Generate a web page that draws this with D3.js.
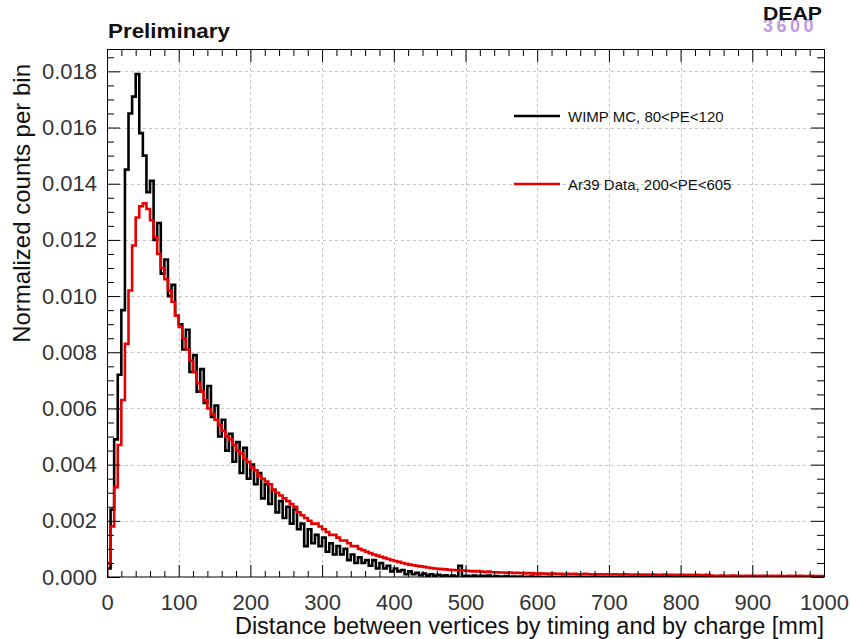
<!DOCTYPE html>
<html>
<head>
<meta charset="utf-8">
<script src="https://cdn.jsdelivr.net/npm/d3@7"></script>
<style>
  body { margin: 0; background: #fff; }
  svg { display: block; font-family: "Liberation Sans", Arial, Helvetica, sans-serif; }
</style>
</head>
<body>
<div id="chart"></div>
<script>
// histogram bins: 5 mm wide, starting at 0 mm
const binStart = 0;
const binWidth = 5;

const seriesNames = ["WIMP MC, 80<PE<120", "Ar39 Data, 200<PE<605"];

const wimpMC = [
  0.0003, 0.0024, 0.0049, 0.0072, 0.0095, 0.0145, 0.0165, 0.0171, 0.0179, 0.0158,
  0.0150, 0.0137, 0.0141, 0.0120, 0.0126, 0.0108, 0.0113, 0.0100, 0.0104, 0.0093,
  0.0090, 0.0081, 0.0088, 0.0073, 0.0079, 0.0066, 0.0074, 0.0062, 0.0068, 0.0057,
  0.0061, 0.0050, 0.0056, 0.0045, 0.0051, 0.0041, 0.0048, 0.0037, 0.0046, 0.0035,
  0.0040, 0.0033, 0.0037, 0.0028, 0.0033, 0.0026, 0.0031, 0.0023, 0.0027, 0.0021,
  0.0025, 0.0019, 0.0024, 0.0017, 0.0019, 0.0011, 0.0017, 0.0012, 0.0015, 0.0011,
  0.0014, 0.0009, 0.0012, 0.0008, 0.0011, 0.0008, 0.0010, 0.0006, 0.0008, 0.0005,
  0.0007, 0.0005, 0.0006, 0.0004, 0.0006, 0.0003, 0.0005, 0.0003, 0.0004, 0.0002,
  0.0003, 0.0002, 0.00025, 0.0001, 0.0002, 0.0001, 0.00015, 0.00006, 0.00012, 0.00005,
  0.0001, 0.00004, 0.00008, 0.00003, 0.00006, 0.00002, 0.00005, 0.00002, 0.0004, 0.00003,
  0.00004, 0.00002, 0.00005, 0.00002, 0.00004, 0.00003, 0.00005, 0.00001, 0.00003, 0.00002,
  0.00002, 0.00003, 0.00001, 0.00002, 0.00001, 0.00002, 0, 0.00001, 0.00002, 0,
  0.00001, 0, 0, 0.00001, 0, 0, 0, 0.00001, 0, 0,
  0, 0.00001, 0, 0, 0, 0, 0.00001, 0, 0, 0,
  0, 0, 0, 0.00001, 0, 0, 0, 0, 0, 0,
  0, 0, 0, 0, 0, 0.00001, 0, 0, 0, 0,
  0, 0, 0, 0, 0, 0, 0, 0, 0, 0,
  0, 0, 0, 0, 0, 0, 0, 0, 0, 0,
  0, 0, 0, 0, 0, 0, 0, 0, 0, 0,
  0, 0, 0, 0, 0, 0, 0, 0, 0, 0
];

const ar39Data = [
  0.0005, 0.0018, 0.0032, 0.0047, 0.0063, 0.0083, 0.0102, 0.0118, 0.0128, 0.0132,
  0.0133, 0.0131, 0.0127, 0.0121, 0.0115, 0.0110, 0.0106, 0.0102, 0.0098, 0.0093,
  0.0089, 0.0085, 0.0081, 0.0077, 0.0073, 0.0069, 0.0066, 0.0063, 0.0060, 0.0058,
  0.0056, 0.0054, 0.0052, 0.0050, 0.0049, 0.0047, 0.0045, 0.0044, 0.0042, 0.0041,
  0.0039, 0.0038, 0.0036, 0.0035, 0.0034, 0.0033, 0.0031, 0.0030, 0.0029, 0.0028,
  0.0027, 0.0026, 0.0025, 0.0023, 0.0022, 0.0021, 0.0020, 0.0019, 0.0019, 0.0018,
  0.0017, 0.0016, 0.0015, 0.0015, 0.0014, 0.0013, 0.0013, 0.0012, 0.0011, 0.0011,
  0.0010, 0.00095, 0.0009, 0.00085, 0.0008, 0.00076, 0.00072, 0.00068, 0.00064, 0.0006,
  0.00057, 0.00054, 0.0005, 0.00047, 0.00044, 0.00042, 0.0004, 0.00038, 0.00036, 0.00034,
  0.00032, 0.0003, 0.00029, 0.00028, 0.00027, 0.00026, 0.00025, 0.00024, 0.00024, 0.00023,
  0.00022, 0.00021, 0.00020, 0.00021, 0.00019, 0.00018, 0.00019, 0.00017, 0.00017, 0.00016,
  0.00016, 0.00015, 0.00016, 0.00014, 0.00015, 0.00014, 0.00013, 0.00014, 0.00013, 0.00012,
  0.00013, 0.00012, 0.00012, 0.00011, 0.00012, 0.00011, 0.00011, 0.00010, 0.00011, 0.00010,
  0.00011, 0.00010, 0.00010, 0.00011, 0.00010, 0.00009, 0.00010, 0.00010, 0.00009, 0.00010,
  0.00009, 0.00010, 0.00009, 0.00009, 0.00010, 0.00009, 0.00008, 0.00009, 0.00009, 0.00008,
  0.00009, 0.00008, 0.00009, 0.00008, 0.00008, 0.00009, 0.00008, 0.00008, 0.00007, 0.00008,
  0.00008, 0.00007, 0.00008, 0.00007, 0.00008, 0.00007, 0.00007, 0.00008, 0.00005, 0.00004,
  0.00004, 0.00005, 0.00004, 0.00004, 0.00005, 0.00004, 0.00004, 0.00003, 0.00004, 0.00004,
  0.00004, 0.00003, 0.00004, 0.00004, 0.00003, 0.00004, 0.00003, 0.00004, 0.00003, 0.00003,
  0.00004, 0.00003, 0.00003, 0.00004, 0.00003, 0.00003, 0.00004, 0.00003, 0.00003, 0.00003
];

const xDomain = [0, 1000];
const yDomain = [0, 0.01876];
const xMajorTicks = [0, 100, 200, 300, 400, 500, 600, 700, 800, 900, 1000];
const yMajorTicks = [0, 0.002, 0.004, 0.006, 0.008, 0.010, 0.012, 0.014, 0.016, 0.018];

const margin = { top: 50, right: 26, bottom: 62, left: 107 };
const width = 850 - margin.left - margin.right;
const height = 639 - margin.top - margin.bottom;

const svg = d3.select("#chart").append("svg")
    .attr("width", 850)
    .attr("height", 639);

const g = svg.append("g")
    .attr("transform", `translate(${margin.left}, ${margin.top})`);

// scales
const x = d3.scaleLinear().domain(xDomain).range([0, width]);
const y = d3.scaleLinear().domain(yDomain).range([height, 0]);

const xMinor = d3.range(0, 1001, 20).filter(v => v % 100 !== 0);
const yMinor = d3.range(0, 19, 0.5).map(v => v / 1000).filter(v => Math.round(v * 10000) % 20 !== 0);

// grid
g.append("g")
  .selectAll("line")
  .data(xMajorTicks.slice(1, -1))
  .join("line")
    .attr("x1", d => Math.round(x(d)) + 0.5)
    .attr("x2", d => Math.round(x(d)) + 0.5)
    .attr("y1", 0)
    .attr("y2", height)
    .attr("stroke", "#c4c4c4")
    .attr("stroke-dasharray", "3,3");

g.append("g")
  .selectAll("line")
  .data(yMajorTicks.slice(1))
  .join("line")
    .attr("x1", 0)
    .attr("x2", width)
    .attr("y1", d => Math.round(y(d)) + 0.5)
    .attr("y2", d => Math.round(y(d)) + 0.5)
    .attr("stroke", "#c4c4c4")
    .attr("stroke-dasharray", "3,3");

// histograms
svg.append("defs").append("clipPath")
    .attr("id", "plot-clip")
  .append("rect")
    .attr("width", width)
    .attr("height", height);

const step = d3.line()
    .x(d => x(d[0]))
    .y(d => y(d[1]))
    .curve(d3.curveStepAfter);

function histPoints(values) {
  const pts = [[binStart, 0]];
  values.forEach((v, i) => pts.push([binStart + i * binWidth, v]));
  pts.push([binStart + values.length * binWidth, values[values.length - 1]]);
  return pts;
}

const plot = g.append("g").attr("clip-path", "url(#plot-clip)");

plot.append("path")
    .attr("d", step(histPoints(wimpMC)))
    .attr("fill", "none")
    .attr("stroke", "#000")
    .attr("stroke-width", 2.6);

plot.append("path")
    .attr("d", step(histPoints(ar39Data)))
    .attr("fill", "none")
    .attr("stroke", "#e60000")
    .attr("stroke-width", 2.6);

// axes, ticks point inward
function styleAxis(sel) {
  sel.select(".domain").remove();
  sel.selectAll(".tick line").attr("stroke", "#000");
}

g.append("g")
    .attr("transform", `translate(0, ${height})`)
    .call(d3.axisBottom(x).tickValues(xMajorTicks).tickSizeInner(-12).tickSizeOuter(0)
      .tickPadding(17).tickFormat(d3.format("d")))
    .call(styleAxis)
    .call(a => a.selectAll("text").attr("font-size", "22px").attr("fill", "#333"));

g.append("g")
    .attr("transform", `translate(0, ${height})`)
    .call(d3.axisBottom(x).tickValues(xMinor).tickSizeInner(-6).tickSizeOuter(0).tickFormat(""))
    .call(styleAxis);

g.append("g")
    .call(d3.axisTop(x).tickValues(xMajorTicks).tickSizeInner(-12).tickSizeOuter(0).tickFormat(""))
    .call(styleAxis);

g.append("g")
    .call(d3.axisTop(x).tickValues(xMinor).tickSizeInner(-6).tickSizeOuter(0).tickFormat(""))
    .call(styleAxis);

g.append("g")
    .call(d3.axisLeft(y).tickValues(yMajorTicks).tickSizeInner(-13).tickSizeOuter(0)
      .tickPadding(10).tickFormat(d3.format(".3f")))
    .call(styleAxis)
    .call(a => a.selectAll("text").attr("font-size", "22px").attr("fill", "#333"));

g.append("g")
    .call(d3.axisLeft(y).tickValues(yMinor).tickSizeInner(-7).tickSizeOuter(0).tickFormat(""))
    .call(styleAxis);

g.append("g")
    .attr("transform", `translate(${width}, 0)`)
    .call(d3.axisRight(y).tickValues(yMajorTicks).tickSizeInner(-13).tickSizeOuter(0).tickFormat(""))
    .call(styleAxis);

g.append("g")
    .attr("transform", `translate(${width}, 0)`)
    .call(d3.axisRight(y).tickValues(yMinor).tickSizeInner(-7).tickSizeOuter(0).tickFormat(""))
    .call(styleAxis);

// frame
g.append("rect")
    .attr("x", 0.5)
    .attr("y", -0.5)
    .attr("width", width)
    .attr("height", height + 0.5)
    .attr("fill", "none")
    .attr("stroke", "#000");

// axis titles
svg.append("text")
    .attr("x", 824)
    .attr("y", 634)
    .attr("text-anchor", "end")
    .attr("font-size", "23.5px")
    .attr("fill", "#111")
    .text("Distance between vertices by timing and by charge [mm]");

svg.append("text")
    .attr("transform", "translate(30, 64) rotate(-90)")
    .attr("text-anchor", "end")
    .attr("font-size", "24px")
    .attr("fill", "#111")
    .text("Normalized counts per bin");

// labels at the top
svg.append("text")
    .attr("x", 108)
    .attr("y", 38)
    .attr("font-size", "20px")
    .attr("font-weight", "bold")
    .attr("textLength", 122)
    .attr("lengthAdjust", "spacingAndGlyphs")
    .attr("fill", "#111")
    .text("Preliminary");

svg.append("text")
    .attr("x", 763)
    .attr("y", 32)
    .attr("font-size", "18px")
    .attr("font-weight", "bold")
    .attr("letter-spacing", "3.5px")
    .attr("fill", "#c09ade")
    .text("3600");

svg.append("text")
    .attr("x", 763)
    .attr("y", 20)
    .attr("font-size", "18px")
    .attr("font-weight", "bold")
    .attr("textLength", 59)
    .attr("lengthAdjust", "spacingAndGlyphs")
    .attr("fill", "#111")
    .text("DEAP");

// legend
const legend = svg.append("g");
const legendColors = ["#000", "#e60000"];
const legendY = [116, 184];

seriesNames.forEach((name, i) => {
  legend.append("line")
      .attr("x1", 514)
      .attr("x2", 560)
      .attr("y1", legendY[i])
      .attr("y2", legendY[i])
      .attr("stroke", legendColors[i])
      .attr("stroke-width", 2.6);
  legend.append("text")
      .attr("x", 568)
      .attr("y", legendY[i] + 5.5)
      .attr("font-size", "15px")
      .attr("fill", "#111")
      .text(name);
});
</script>
</body>
</html>
